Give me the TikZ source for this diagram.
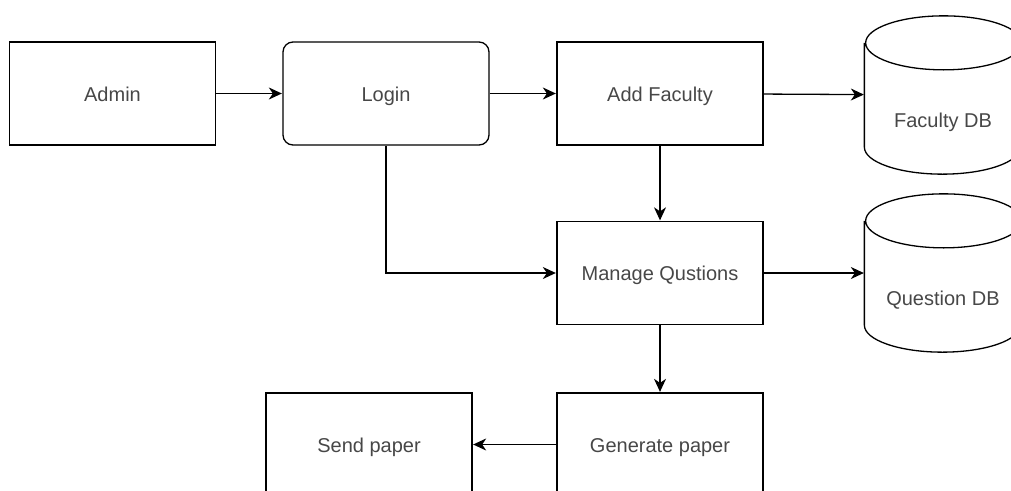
\documentclass[tikz,border=0pt]{standalone}
\usepackage{fontspec}
\setmainfont{Liberation Sans}
\usetikzlibrary{positioning,arrows.meta}

\begin{document}
\begin{tikzpicture}[x=1pt,y=-1pt,on grid,line width=1.3pt,
   >={Stealth[length=13pt,width=12pt,inset=4pt]},shorten >=0.5pt,
   every node/.style={text=black!72,font=\fontsize{20}{24}\selectfont,
      text height=17pt,text depth=2pt},
   box/.style={draw,rectangle,minimum width=206pt,minimum height=103pt},
   roundbox/.style={box,rounded corners=10pt},
   dbnode/.style={rectangle,minimum width=156pt,minimum height=157pt}]
   \useasboundingbox (0,0) rectangle (1011,490);
   \clip (0,0) rectangle (1011,490);

   \node[box] (admin) at (112.5,93.5) {Admin};
   \node[roundbox] (login) [right=273.5pt of admin] {Login};
   \node[box] (addfac) [right=274pt of login] {Add Faculty};
   \node[dbnode] (fdb) [right=283pt of addfac,yshift=-1.5pt] {};
   \node[box] (manage) [below=179.5pt of addfac] {Manage Qustions};
   \node[dbnode] (qdb) [right=283pt of manage] {};
   \node[box] (generate) [below=171.5pt of manage] {Generate paper};
   \node[box] (send) [left=291pt of generate] {Send paper};

   \foreach \db in {fdb,qdb} {
     \draw ([yshift=-27pt]\db.north west) -- ([yshift=27pt]\db.south west)
        arc[start angle=180,end angle=360,x radius=78pt,y radius=27pt]
        -- ([yshift=-27pt]\db.north east)
        arc[start angle=0,end angle=180,x radius=78pt,y radius=27pt]
        arc[start angle=180,end angle=360,x radius=78pt,y radius=27pt];
   }
   \node at ([yshift=-25pt]fdb.center) {Faculty DB};
   \node at ([yshift=-25pt]qdb.center) {Question DB};

    \path[->] (admin) edge (login);
    \path[->] (login) edge (addfac);
    \path[->] (addfac) edge (fdb);
    \path[->] (addfac) edge (manage);

    \draw[->] (login) |- (manage);

    \path[->] (manage) edge (qdb);
    \path[->] (manage) edge (generate);
    \path[->] (generate) edge (send);
\end{tikzpicture}
\end{document}
